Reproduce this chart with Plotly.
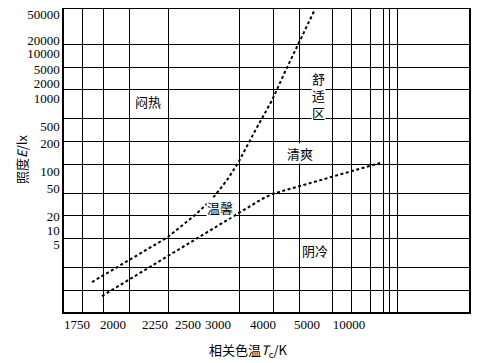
import numpy as np
import plotly.graph_objects as go

# ---- axis labels (values) ----
T_TICKS = [1750, 2000, 2250, 2500, 3000, 4000, 5000, 10000]
E_TICKS = [50000, 20000, 10000, 5000, 2000, 1000, 500, 200, 100, 50, 20, 10, 5]

# ---- curves: correlated colour temperature (K) vs illuminance (lx) ----
UPPER_T = [1850, 2085, 2345, 2610, 2895, 3180, 3410, 3800, 4190, 4470, 4780, 5700]
UPPER_E = [0.76, 2.15, 7.07, 20.7, 34.9, 69.3, 122, 382, 952, 4110, 15320, 59000]
LOWER_T = [1920, 2085, 2345, 3430, 3975, 4190, 6960, 16700]
LOWER_E = [0.38, 0.84, 2.76, 22.1, 34.9, 41.1, 75.2, 122]

# ---- region labels ----
REGION_TEXT = ["闷热", "舒<br>适<br>区", "清爽", "温馨", "阴冷"]
REGION_T = [2206, 6000, 4825, 3040, 5706]
REGION_E = [906, 1100, 156, 26, 3.71]

# ---- layout (positions on the drawn, non-uniform scales) ----
T_TICK_POS = [77, 113, 155, 188, 218, 263, 307, 349]
E_TICK_POS = [14, 40, 53, 69, 83, 98, 126, 143, 171, 188, 216, 230, 244]
X_GRID = [82, 103, 129, 168, 239, 273, 299, 332, 351, 370, 383, 389, 397]
Y_GRID = [44, 67, 89.5, 118.5, 141.5, 164, 193.5, 215.5, 238.5, 267.5, 290]
X_RANGE = [64, 469]
Y_RANGE = [312, 9]
PAGE_W, PAGE_H = 491, 363
BODY_OFFSET = 8  # default page margin around the figure


def make_scale(vals, pos):
    lv = np.log10(np.asarray(vals, float))
    p = np.asarray(pos, float)
    o = np.argsort(lv)
    lv, p = lv[o], p[o]

    def f(v):
        l = np.log10(np.asarray(v, float))
        out = np.interp(l, lv, p)
        lo, hi = l < lv[0], l > lv[-1]
        out[lo] = p[0] + (l[lo] - lv[0]) * (p[1] - p[0]) / (lv[1] - lv[0])
        out[hi] = p[-1] + (l[hi] - lv[-1]) * (p[-1] - p[-2]) / (lv[-1] - lv[-2])
        return out
    return f


xs = make_scale(T_TICKS, T_TICK_POS)
ys = make_scale(E_TICKS, E_TICK_POS)

line_style = dict(color="black", width=2, dash="3px,2.5px")

fig = go.Figure()
fig.add_trace(go.Scatter(x=xs(UPPER_T), y=ys(UPPER_E), mode="lines",
                         line=line_style, showlegend=False, hoverinfo="skip"))
fig.add_trace(go.Scatter(x=xs(LOWER_T), y=ys(LOWER_E), mode="lines",
                         line=line_style, showlegend=False, hoverinfo="skip"))

cjk = "Noto Sans CJK SC"
for txt, t, e in zip(REGION_TEXT, xs(REGION_T), ys(REGION_E)):
    fig.add_annotation(x=t, y=e, xref="x", yref="y", text=txt, showarrow=False,
                       xanchor="center", yanchor="middle",
                       font=dict(family=cjk, size=13, color="black"),
                       bgcolor="white", borderpad=0)

L, R = X_RANGE
B, T = Y_RANGE
fig.add_annotation(xref="paper", yref="paper", x=(248 - L) / (R - L), y=(B - 350) / (B - T),
                   xanchor="center", yanchor="middle",
                   text="相关色温<i>T</i><sub>c</sub>/K", showarrow=False,
                   font=dict(family=cjk, size=13, color="black"))
fig.add_annotation(xref="paper", yref="paper", x=(21 - L) / (R - L), y=(B - 160) / (B - T),
                   xanchor="center", yanchor="middle",
                   text="照度<i>E</i>/lx", textangle=-90, showarrow=False,
                   font=dict(family=cjk, size=13, color="black"))

serif = "Liberation Serif, Times New Roman, serif"
fig.update_xaxes(range=X_RANGE, tickmode="array", tickvals=T_TICK_POS,
                 ticktext=[str(v) for v in T_TICKS], showgrid=False, zeroline=False,
                 ticks="", showline=True, mirror=True, linecolor="black", linewidth=1.5,
                 automargin=False, ticklabeloverflow="allow",
                 tickfont=dict(family=serif, size=13, color="black"),
                 minor=dict(tickmode="array", tickvals=X_GRID, showgrid=True,
                            gridcolor="black", gridwidth=1.2, ticks=""))
fig.update_yaxes(range=Y_RANGE, tickmode="array", tickvals=E_TICK_POS,
                 ticktext=[str(v) for v in E_TICKS], showgrid=False, zeroline=False,
                 ticks="", showline=True, mirror=True, linecolor="black", linewidth=1.5,
                 automargin=False, ticklabeloverflow="allow",
                 tickfont=dict(family=serif, size=13, color="black"),
                 minor=dict(tickmode="array", tickvals=Y_GRID, showgrid=True,
                            gridcolor="black", gridwidth=1.2, ticks=""))

fig.update_layout(width=PAGE_W - BODY_OFFSET, height=PAGE_H - BODY_OFFSET,
                  margin=dict(l=L - BODY_OFFSET, r=PAGE_W - R, t=T - BODY_OFFSET,
                              b=PAGE_H - B, autoexpand=False),
                  plot_bgcolor="white", paper_bgcolor="white")
fig.write_html("out.html")
